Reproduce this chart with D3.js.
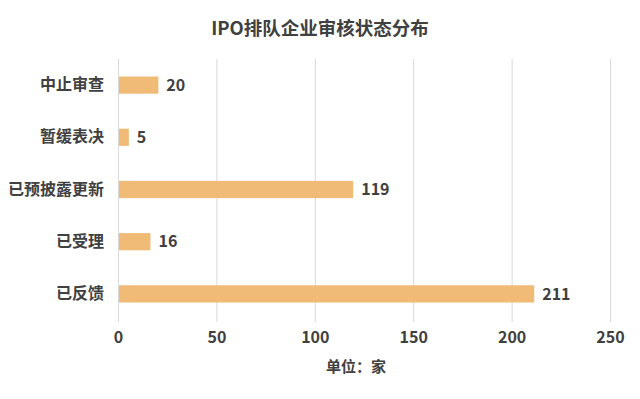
<!DOCTYPE html>
<html>
<head>
<meta charset="utf-8">
<script src="https://cdn.jsdelivr.net/npm/d3@7"></script>
<style>
  body { margin: 0; background: #fff; }
  text { font-family: "Noto Sans CJK SC", "Noto Sans", sans-serif; }
</style>
</head>
<body>
<script>
// chart data
const categories = ['中止审查', '暂缓表决', '已预披露更新', '已受理', '已反馈']
const values = [20, 5, 119, 16, 211]
const xTicks = [0, 50, 100, 150, 200, 250]
const title = 'IPO排队企业审核状态分布'
const unitLabel = '单位：家'

const width = 640
const height = 399
const marginLeft = 118
const marginRight = 610
const plotTop = 59
const plotBottom = 320

const svg = d3.select('body').append('svg')
  .attr('width', width)
  .attr('height', height)

const x = d3.scaleLinear().domain([0, 250]).range([marginLeft, marginRight])
const y = d3.scaleBand().domain(categories).range([plotTop, plotBottom]).paddingInner(0.67).paddingOuter(0.335)

// vertical grid lines
svg.append('g').selectAll('line')
  .data(xTicks)
  .join('line')
  .attr('x1', d => x(d) + 0.5)
  .attr('x2', d => x(d) + 0.5)
  .attr('y1', plotTop)
  .attr('y2', plotBottom + 2)
  .attr('stroke', '#d9d9d9')
  .attr('stroke-width', 1)

// bars
svg.append('g').selectAll('rect')
  .data(values)
  .join('rect')
  .attr('x', x(0) + 1)
  .attr('y', (d, i) => y(categories[i]))
  .attr('width', d => x(d) - x(0))
  .attr('height', y.bandwidth())
  .attr('fill', '#f0bb77')

// value labels
svg.append('g').selectAll('text')
  .data(values)
  .join('text')
  .attr('x', d => x(d) + 9)
  .attr('y', (d, i) => y(categories[i]) + y.bandwidth() / 2)
  .attr('dy', '0.36em')
  .attr('font-size', 16)
  .attr('font-weight', 'bold')
  .attr('fill', '#404040')
  .text(d => d)

// category labels
const yAxis = d3.axisLeft(y).tickSize(0).tickPadding(14)
svg.append('g')
  .attr('transform', `translate(${marginLeft},0)`)
  .call(yAxis)
  .call(g => g.select('.domain').remove())
  .call(g => g.selectAll('text')
    .attr('font-size', 16)
    .attr('font-weight', 'bold')
    .attr('fill', '#404040')
    .attr('font-family', '"Noto Sans CJK SC", sans-serif'))

// x axis tick labels
const xAxis = d3.axisBottom(x).tickValues(xTicks).tickSize(0).tickPadding(12)
svg.append('g')
  .attr('transform', `translate(0,${plotBottom})`)
  .call(xAxis)
  .call(g => g.select('.domain').remove())
  .call(g => g.selectAll('text')
    .attr('font-size', 16)
    .attr('font-weight', 'bold')
    .attr('fill', '#404040')
    .attr('font-family', '"Noto Sans CJK SC", sans-serif'))

// unit label
svg.append('text')
  .attr('x', 356)
  .attr('y', 372)
  .attr('text-anchor', 'middle')
  .attr('font-size', 15)
  .attr('font-weight', 'bold')
  .attr('fill', '#404040')
  .text(unitLabel)

// title
svg.append('text')
  .attr('x', 320)
  .attr('y', 35)
  .attr('text-anchor', 'middle')
  .attr('font-size', 18.5)
  .attr('font-weight', 'bold')
  .attr('fill', '#404040')
  .text(title)
</script>
</body>
</html>
